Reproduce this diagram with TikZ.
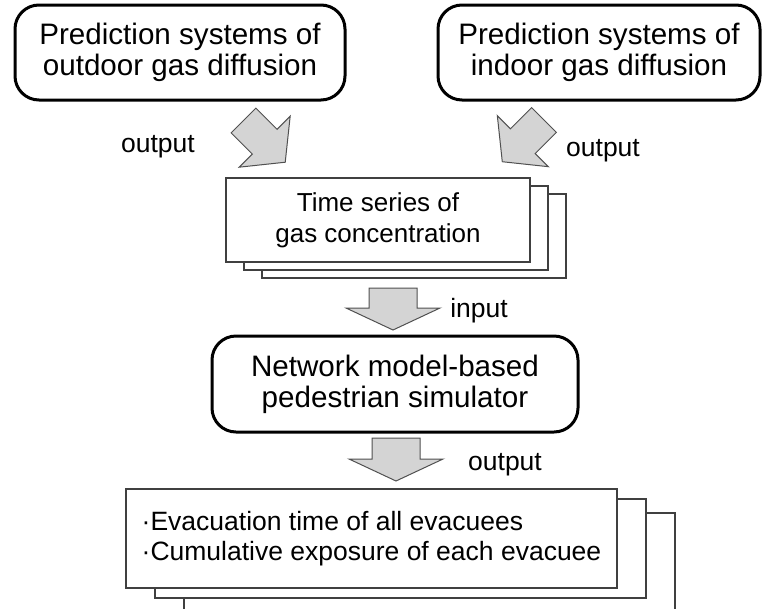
\documentclass[tikz,border=0pt]{standalone}
\usepackage{fontspec}
\setmainfont{Liberation Sans}
\usetikzlibrary{shadows}
\definecolor{arrowfill}{RGB}{212,212,212}
\definecolor{arrowline}{RGB}{80,80,80}
\definecolor{sheetline}{RGB}{64,64,64}
\tikzset{
  model/.style={draw=black,line width=3pt,rounded corners=24pt,align=center,inner sep=0pt,font=\fontsize{29.6}{31}\selectfont},
  sheet/.style={draw=sheetline,fill=white,line width=1.3pt,inner sep=0pt},
  tag/.style={anchor=base,font=\fontsize{26.5}{30}\selectfont},
  pics/fatarrow/.style args={#1/#2/#3/#4}{code={
    \draw[draw=arrowline,fill=arrowfill,line width=1pt,line join=miter] (-#1,0) -- (#1,0) -- (#1,#2) -- (#3,#2) -- (0,#2+#4) -- (-#3,#2) -- (-#1,#2) -- cycle;
  }}
}
\begin{document}
\begin{tikzpicture}[x=1pt,y=-1pt]
  \useasboundingbox (0,0) rectangle (762,608);
  \node[model,minimum width=330pt,minimum height=95pt] (outdoor) at (180,52.5) {Prediction systems of\\outdoor gas diffusion};
  \node[model,minimum width=322pt,minimum height=95pt] (indoor) at (599,52.5) {Prediction systems of\\indoor gas diffusion};
  \node[sheet,copy shadow={draw=sheetline,shadow xshift=36pt,shadow yshift=-16pt},copy shadow={draw=sheetline,shadow xshift=18pt,shadow yshift=-8pt},
    minimum width=304pt,minimum height=84pt,align=center,font=\fontsize{26}{31}\selectfont] (series) at (378,220) {Time series of\\gas concentration};
  \node[model,minimum width=366pt,minimum height=96pt] (simulator) at (395,384) {Network model-based\\pedestrian simulator};
  \node[sheet,copy shadow={draw=sheetline,shadow xshift=58pt,shadow yshift=-24pt},copy shadow={draw=sheetline,shadow xshift=29pt,shadow yshift=-10pt},
    minimum width=491pt,minimum height=99pt,align=left,font=\fontsize{26.5}{30}\selectfont] (result) at (371.5,538.5) {·Evacuation time of all evacuees\\·Cumulative exposure of each evacuee};

  \pic[rotate=45] at (243.5,120.5) {fatarrow=17.5/30/36/29};
  \pic[rotate=-45] at (544,120) {fatarrow=17.5/30/36/29};
  \pic at (393,288) {fatarrow=24/20/47/22};
  \pic at (396,438) {fatarrow=24/21/47/22};

  \node[tag] (outleft) at (158,152) {output};
  \node[tag] (outright) at (603,156) {output};
  \node[tag] (intag) at (479,317) {input};
  \node[tag] (outsim) at (505,470) {output};
\end{tikzpicture}
\end{document}
